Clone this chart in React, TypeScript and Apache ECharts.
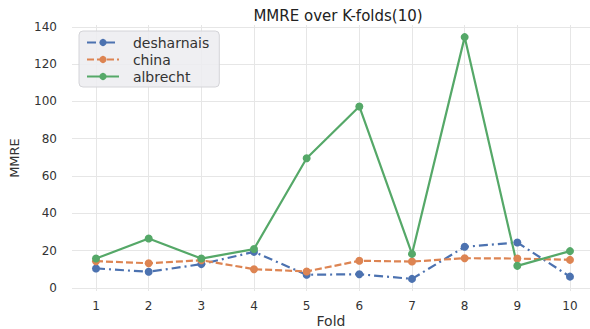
import React, { useEffect, useRef } from "react";
import * as echarts from "echarts";

const folds = [1, 2, 3, 4, 5, 6, 7, 8, 9, 10];
const desharnais = [10.4, 8.6, 12.7, 19.3, 7.0, 7.3, 4.8, 22.0, 24.3, 6.0];
const china = [14.3, 13.2, 14.8, 10.0, 8.8, 14.5, 14.1, 15.9, 15.7, 15.0];
const albrecht = [15.7, 26.5, 15.7, 20.8, 69.5, 97.3, 18.2, 134.5, 11.8, 19.7];
const yTicks = [0, 20, 40, 60, 80, 100, 120, 140];

const FONT = "DejaVu Sans";
const TXT = "#333333";

export default function App() {
  const ref = useRef<HTMLDivElement>(null);
  useEffect(() => {
    if (!ref.current) return;
    const chart = echarts.init(ref.current, undefined, { renderer: "svg" });
    const pairs = (vals: number[]) => folds.map((f, i) => [f, vals[i]]);
    const mk = (name: string, vals: number[], color: string, type: any) => ({
      name,
      type: "line",
      data: pairs(vals),
      symbol: "circle",
      symbolSize: 8,
      itemStyle: { color },
      lineStyle: { color, width: 2.2, type },
      z: 3,
    });
    chart.setOption({
      animation: false,
      backgroundColor: "#ffffff",
      textStyle: { fontFamily: FONT },
      title: {
        text: "MMRE over K-folds(10)",
        left: 333,
        textAlign: "center",
        top: 3,
        textStyle: { fontFamily: FONT, fontSize: 15, fontWeight: "normal", color: "#222222" },
      },
      legend: {
        orient: "vertical",
        left: 79,
        top: 31,
        padding: [4, 10, 3, 7],
        itemWidth: 32,
        itemHeight: 9,
        itemGap: 2,
        backgroundColor: "rgba(236,236,240,0.85)",
        borderColor: "#d4d4d8",
        borderWidth: 1,
        borderRadius: 4,
        formatter: (n: string) => "  " + n,
        textStyle: { fontFamily: FONT, fontSize: 14, lineHeight: 15, color: TXT, verticalAlign: "middle" },
        data: ["desharnais", "china", "albrecht"],
      },
      grid: { left: 72, right: 0, top: 25, bottom: 38, outerBoundsMode: "none" },
      xAxis: {
        type: "value",
        min: 0.5443,
        max: 10.38,
        name: "Fold",
        nameLocation: "middle",
        nameGap: 23,
        nameMoveOverlap: false,
        nameTextStyle: { fontFamily: FONT, fontSize: 14, color: TXT },
        axisLine: { show: false },
        axisTick: { show: false, customValues: folds },
        axisLabel: { customValues: folds, fontFamily: FONT, fontSize: 12, color: TXT, margin: 9 },
        splitLine: { show: true, lineStyle: { color: "#e6e6e6", width: 1 } },
      },
      yAxis: {
        type: "value",
        min: -1.7,
        max: 141,
        name: "MMRE",
        nameLocation: "middle",
        nameGap: 51,
        nameMoveOverlap: false,
        nameTextStyle: { fontFamily: FONT, fontSize: 13, color: TXT },
        axisLine: { show: false },
        axisTick: { show: false, customValues: yTicks },
        axisLabel: { customValues: yTicks, fontFamily: FONT, fontSize: 12, color: TXT, margin: 15 },
        splitLine: { show: true, lineStyle: { color: "#e6e6e6", width: 1 } },
      },
      series: [
        mk("desharnais", desharnais, "#4c72b0", [9, 4, 2, 4]),
        mk("china", china, "#dd8452", [7, 3]),
        mk("albrecht", albrecht, "#55a868", "solid"),
      ],
    });
    return () => chart.dispose();
  }, []);
  return <div ref={ref} style={{ position: "fixed", left: 0, top: 0, width: 590, height: 329 }} />;
}
